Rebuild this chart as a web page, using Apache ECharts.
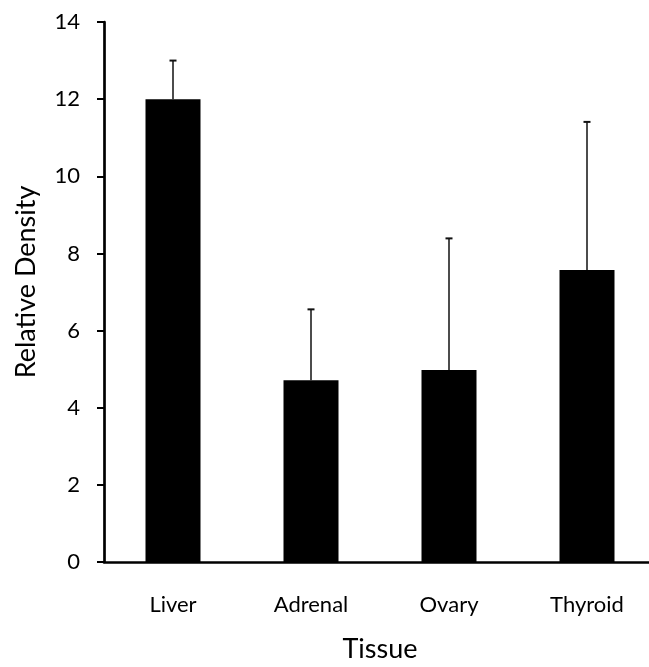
<!DOCTYPE html>
<html>
<head>
<meta charset="utf-8">
<script src="https://cdn.jsdelivr.net/npm/echarts@6/dist/echarts.min.js"></script>
<style>
html,body{margin:0;padding:0;background:#fff;}
#c{width:649px;height:667px;}
</style>
</head>
<body>
<div id="c"></div>
<script>
const categories = ['Liver', 'Adrenal', 'Ovary', 'Thyroid'];
const means = [12.0, 4.71, 4.98, 7.57];
const upperErrors = [1.0, 1.84, 3.41, 3.84];
const yTicks = [0, 2, 4, 6, 8, 10, 12, 14];
const xTitle = 'Tissue';
const yTitle = 'Relative Density';

const FONT = 'Lato';
const chart = echarts.init(document.getElementById('c'));
chart.setOption({
  animation: false,
  backgroundColor: '#fff',
  grid: { left: 104, top: 22, width: 552, height: 540, outerBoundsMode: 'none', containLabel: false },
  xAxis: {
    type: 'category',
    data: categories,
    axisLine: { lineStyle: { color: '#000', width: 2.7 } },
    axisTick: { show: false },
    axisLabel: { color: '#000', fontFamily: FONT, fontSize: 22, margin: 32 },
    name: xTitle,
    nameLocation: 'middle',
    nameGap: 74,
    nameTextStyle: { color: '#000', fontFamily: FONT, fontSize: 27 }
  },
  yAxis: {
    type: 'value',
    min: yTicks[0],
    max: yTicks[yTicks.length - 1],
    interval: yTicks[1] - yTicks[0],
    axisLine: { show: true, lineStyle: { color: '#000', width: 2.7 } },
    axisTick: { show: true, length: 7, lineStyle: { color: '#000', width: 2 } },
    axisLabel: { color: '#000', fontFamily: FONT, fontSize: 22, margin: 24 },
    splitLine: { show: false }
  },
  graphic: [{
    type: 'text',
    x: 26, y: 282,
    rotation: Math.PI / 2,
    style: { text: yTitle, fill: '#000', font: '27px ' + FONT, align: 'center', verticalAlign: 'middle' }
  }],
  series: [{
    type: 'bar',
    data: means,
    barWidth: 55,
    itemStyle: { color: '#000' },
    z: 2
  }, {
    type: 'custom',
    data: categories.map((c, i) => [i, means[i], means[i] + upperErrors[i]]),
    z: 3,
    renderItem: function (params, api) {
      const base = api.coord([api.value(0), api.value(1)]);
      const top = api.coord([api.value(0), api.value(2)]);
      const hw = 3.5;
      return {
        type: 'group',
        children: [
          { type: 'line', shape: { x1: top[0], y1: base[1], x2: top[0], y2: top[1] }, style: { stroke: '#111', lineWidth: 1.5 } },
          { type: 'line', shape: { x1: top[0] - hw, y1: top[1], x2: top[0] + hw, y2: top[1] }, style: { stroke: '#111', lineWidth: 2 } }
        ]
      };
    }
  }]
});
</script>
</body>
</html>
